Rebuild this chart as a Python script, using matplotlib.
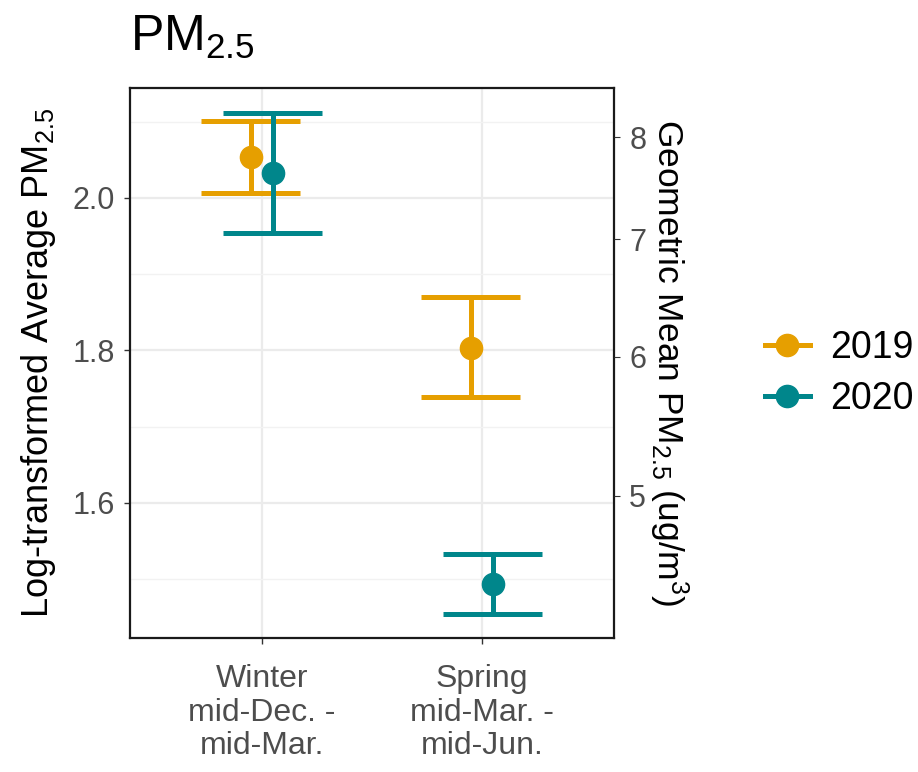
import numpy as np
import matplotlib
matplotlib.use("Agg")
import matplotlib.pyplot as plt
from matplotlib.lines import Line2D

plt.rcParams['font.family'] = ['Liberation Sans', 'DejaVu Sans']
plt.rcParams['mathtext.fontset'] = 'custom'
plt.rcParams['mathtext.rm'] = 'Liberation Sans'
plt.rcParams['mathtext.it'] = 'Liberation Sans:italic'
plt.rcParams['mathtext.bf'] = 'Liberation Sans:bold'
plt.rcParams['mathtext.default'] = 'rm'

seasons = ['Winter\nmid-Dec. -\nmid-Mar.', 'Spring\nmid-Mar. -\nmid-Jun.']
years = ['2019', '2020']
colors = ['#E69F00', '#00868B']

# log-transformed means and CI bounds, per year
mean_2019 = [2.054, 1.803]
low_2019 = [2.007, 1.739]
high_2019 = [2.101, 1.870]
mean_2020 = [2.033, 1.494]
low_2020 = [1.954, 1.454]
high_2020 = [2.111, 1.533]

means = [mean_2019, mean_2020]
lows = [low_2019, low_2020]
highs = [high_2019, high_2020]

fig = plt.figure(figsize=(9.18, 7.72), dpi=100)
ax = fig.add_axes([0.1416, 0.1736, 0.5272, 0.7124])

x = np.arange(len(seasons))
dodge = [-0.052, 0.048]
cap = 0.225
for i, yr in enumerate(years):
    xs = x + dodge[i]
    m = np.array(means[i])
    lo = np.array(lows[i])
    hi = np.array(highs[i])
    ax.vlines(xs, lo, hi, color=colors[i], lw=3.6, zorder=3)
    ax.hlines(lo, xs - cap, xs + cap, color=colors[i], lw=3.6, zorder=3)
    ax.hlines(hi, xs - cap, xs + cap, color=colors[i], lw=3.6, zorder=3)
    ax.plot(xs, m, 'o', color=colors[i], ms=16, zorder=4)

ax.set_xlim(-0.6, 1.6)
ax.set_ylim(1.423, 2.144)
ax.set_xticks(x)
ax.set_xticklabels(seasons, fontsize=23, color='#4D4D4D', linespacing=1.15)
ax.tick_params(axis='x', pad=15)
ax.set_yticks([1.6, 1.8, 2.0])
ax.set_yticklabels(['1.6', '1.8', '2.0'], fontsize=22, color='#4D4D4D')
ax.set_yticks([1.5, 1.7, 1.9, 2.1], minor=True)
ax.tick_params(axis='y', which='minor', length=0)
ax.tick_params(axis='y', which='major', pad=7)
ax.tick_params(which='major', length=4, color='#333333', width=1)
ax.grid(True, which='major', color='#EBEBEB', lw=1.6)
ax.grid(True, which='minor', axis='y', color='#F2F2F2', lw=1.0)
ax.set_axisbelow(True)
for s in ax.spines.values():
    s.set_color('#1A1A1A')
    s.set_linewidth(1.6)
ax.set_ylabel('Log-transformed Average PM$_{2.5}$', fontsize=26, labelpad=10)

ax2 = ax.twinx()
ax2.set_ylim(ax.get_ylim())
ax2.set_yticks(np.log([5, 6, 7, 8]))
ax2.set_yticklabels(['5', '6', '7', '8'], fontsize=22, color='#4D4D4D')
ax2.tick_params(length=4, color='#333333', pad=7)
ax2.set_ylabel('Geometric Mean PM$_{2.5}$ (ug/m$^3$)', fontsize=25.5,
               rotation=270, labelpad=32)
for s in ax2.spines.values():
    s.set_visible(False)

ax.set_title('PM$_{2.5}$', fontsize=36, loc='left', pad=27)

handles = [Line2D([0], [0], color=c, lw=3.6, marker='o', ms=16) for c in colors]
fig.legend(handles, years, loc='center left', bbox_to_anchor=(0.833, 0.516),
           frameon=False, fontsize=27, handlelength=1.2, handletextpad=0.55,
           labelspacing=0.4, borderpad=0, borderaxespad=0)

fig.savefig('out.png', dpi=100)
